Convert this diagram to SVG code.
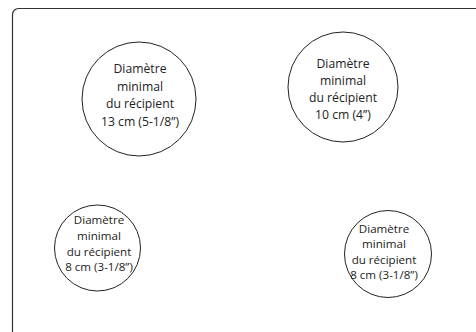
<svg xmlns="http://www.w3.org/2000/svg" width="476" height="332" viewBox="0 0 476 332">
<style>
.frame{fill:none;stroke:#333;stroke-width:1.2}
.c{fill:#fff;stroke:#222;stroke-width:1}
.t{font-family:"Open Sans","Liberation Sans",sans-serif;fill:#222;text-anchor:middle}
.l{font-size:12.2px}
.s{font-size:11.6px}
</style>
<rect class="frame" x="12.5" y="8.5" width="480" height="340" rx="6"/>
<g id="n1">
<circle class="c" cx="139" cy="99" r="57"/>
<text class="t l"><tspan x="140" y="73">Diamètre</tspan><tspan x="140" y="91">minimal</tspan><tspan x="140" y="108">du récipient</tspan><tspan x="140" y="126">13 cm (5-1/8”)</tspan></text>
</g>
<g id="n2">
<circle class="c" cx="343" cy="87" r="55"/>
<text class="t l"><tspan x="343" y="68">Diamètre</tspan><tspan x="343" y="85">minimal</tspan><tspan x="343" y="102">du récipient</tspan><tspan x="343" y="119">10 cm (4”)</tspan></text>
</g>
<g id="n3">
<circle class="c" cx="97.5" cy="248" r="43"/>
<text class="t s"><tspan x="99" y="224">Diamètre</tspan><tspan x="99" y="240">minimal</tspan><tspan x="99" y="256">du récipient</tspan><tspan x="99" y="271">8 cm (3-1/8”)</tspan></text>
</g>
<g id="n4">
<circle class="c" cx="388" cy="254" r="43.5"/>
<text class="t s"><tspan x="384" y="233">Diamètre</tspan><tspan x="384" y="248">minimal</tspan><tspan x="384" y="264">du récipient</tspan><tspan x="384" y="279">8 cm (3-1/8”)</tspan></text>
</g>
<g id="connectors"/>
</svg>
